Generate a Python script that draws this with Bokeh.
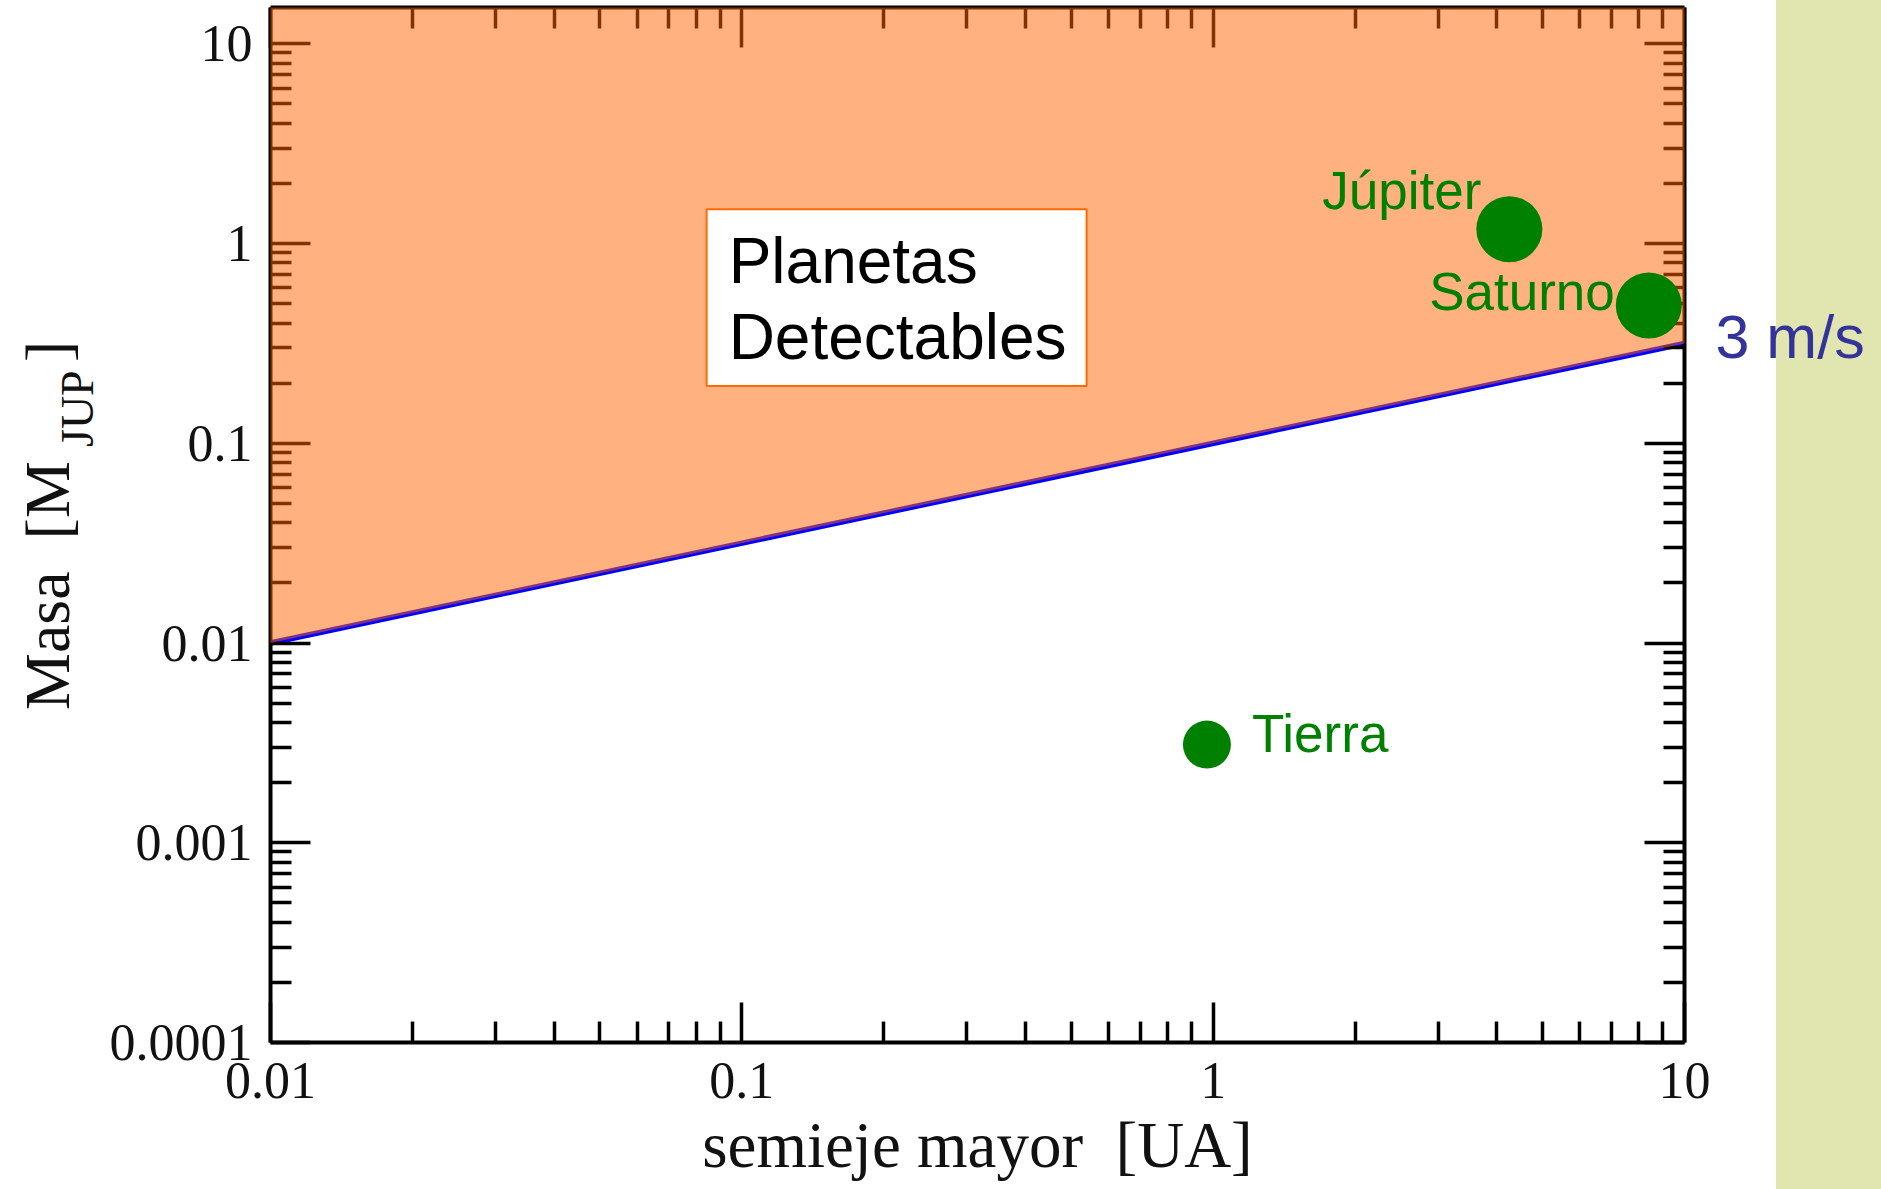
import math

from bokeh.plotting import figure
from bokeh.models import Range1d, LogAxis, FixedTicker, PrintfTickFormatter
from bokeh.core.properties import value
from bokeh.embed import file_html
from bokeh.resources import INLINE

# Solar-system planets: semi-major axis [AU] and mass [M_JUP]
planet_names = ["Júpiter", "Saturno", "Tierra"]
planet_a = [4.25, 8.4, 0.97]
planet_mass = [1.18, 0.49, 0.0031]

# 3 m/s radial-velocity detection limit
limit_a = [0.01, 10.0]
limit_mass = [0.01, 0.316]
limit_label = "3 m/s"

# Axis ticks
x_major = [0.01, 0.1, 1, 10]
y_major = [1e-4, 1e-3, 1e-2, 0.1, 1, 10]

x_lo, x_hi = 0.01, 10
y_lo, y_hi = 1e-4, 15.2

# Page layout (pixels)
W, H = 1881, 1189
BOX_L, BOX_R, BOX_T, BOX_B = 270, 1684, 7, 1042
STRIP_X = 1776
SERIF = "Liberation Serif"
SANS = "Liberation Sans"
GREEN = "#008000"
NB = "\u00a0"

# The frame fills the whole canvas; the axes box sits inside it.
lx0, lx1 = math.log10(x_lo), math.log10(x_hi)
ly0, ly1 = math.log10(y_lo), math.log10(y_hi)
px_x = (BOX_R - BOX_L) / (lx1 - lx0)
px_y = (BOX_B - BOX_T) / (ly1 - ly0)
x_range = Range1d(10 ** (lx0 - BOX_L / px_x), 10 ** (lx1 + (W - BOX_R) / px_x))
y_range = Range1d(10 ** (ly0 - (H - BOX_B) / px_y), 10 ** (ly1 + BOX_T / px_y))
y_mid = 10 ** ((ly0 + ly1) / 2)


def minors(majors):
    return [m * d for d in majors[:-1] for m in range(2, 10)]


p = figure(width=W, height=H, x_axis_type="log", y_axis_type="log",
           x_range=x_range, y_range=y_range,
           output_backend="svg", toolbar_location=None, min_border=0)
p.outline_line_color = None
p.grid.visible = False
p.background_fill_color = None
p.border_fill_color = None
p.styles = {
    "background": f"linear-gradient(to right, #ffffff {STRIP_X}px, #E1E5B0 {STRIP_X}px)"
}

p.add_layout(LogAxis(), "above")
p.add_layout(LogAxis(), "right")


def style_axis(ax, majors, bounds, loc, show_labels):
    ax.ticker = FixedTicker(ticks=majors, minor_ticks=minors(majors))
    ax.bounds = bounds
    ax.fixed_location = loc
    ax.axis_line_width = 4
    ax.axis_line_color = "black"
    ax.major_tick_in = 40
    ax.major_tick_out = 0
    ax.minor_tick_in = 21
    ax.minor_tick_out = 0
    ax.major_tick_line_width = 3.5
    ax.minor_tick_line_width = 3.5
    ax.major_tick_line_color = "black"
    ax.minor_tick_line_color = "black"
    if show_labels:
        ax.formatter = PrintfTickFormatter(format="%g")
        ax.major_label_text_font = SERIF
        ax.major_label_text_font_size = "52px"
        ax.major_label_text_color = "#111111"
    else:
        ax.major_label_text_font_size = "1px"
        ax.major_label_text_alpha = 0
        ax.major_label_standoff = 0
        ax.axis_label = None


for ax in p.below:
    style_axis(ax, x_major, (x_lo, x_hi), y_lo, True)
    ax.major_label_standoff = 20
    ax.axis_label = f"semieje mayor{NB}{NB}[UA]"
    ax.axis_label_text_font = SERIF
    ax.axis_label_text_font_size = "65px"
    ax.axis_label_text_font_style = "normal"
    ax.axis_label_text_color = "#111111"
    ax.axis_label_standoff = 8
for ax in p.above:
    style_axis(ax, x_major, (x_lo, x_hi), y_hi, False)
for ax in p.left:
    style_axis(ax, y_major, (y_lo, y_hi), x_lo, True)
    ax.major_label_standoff = 18
    ax.axis_label = None
for ax in p.right:
    style_axis(ax, y_major, (y_lo, y_hi), x_hi, False)

# Detection limit line
p.line(limit_a, limit_mass, line_color="#0000FF", line_width=5.5)

# Detectable region: translucent orange over everything above the limit
fill_x = limit_a + [limit_a[-1], limit_a[0]]
fill_y = limit_mass + [y_hi, y_hi]
p.patch(fill_x, fill_y, fill_color="#FF6400", fill_alpha=0.5,
        line_color=None, level="overlay")

# Region caption
p.text(x=[0.0842], y=[1.484], text=["Planetas\nDetectables"],
       text_font=value(SANS), text_font_size="64px", text_color="black",
       text_align="left", text_baseline="top", text_line_height=1.05,
       background_fill_color="white", border_line_color="#FF6A00",
       border_line_width=2,
       padding=dict(left=22, right=20, top=16, bottom=13),
       level="overlay")

# Planets
marker_px = [66, 66, 48]
p.scatter(planet_a, planet_mass, size=marker_px, fill_color=GREEN,
          line_color=None, level="overlay")

label_place = {
    "Júpiter": dict(x_offset=-28, y_offset=-39, text_align="right"),
    "Saturno": dict(x_offset=-34, y_offset=-14, text_align="right"),
    "Tierra": dict(x_offset=45, y_offset=-11, text_align="left"),
}
for name, a, m in zip(planet_names, planet_a, planet_mass):
    p.text(x=[a], y=[m], text=[name], text_font=value(SANS),
           text_font_size="53px", text_color=GREEN,
           text_baseline="alphabetic", level="overlay", **label_place[name])

# Label for the detection limit, right of the axes box
p.text(x=[limit_a[-1]], y=[limit_mass[-1]], text=[limit_label],
       x_offset=31, y_offset=-6, text_font=value(SANS),
       text_font_size="61px", text_color="#333399",
       text_align="left", text_baseline="alphabetic")

# Vertical axis title with subscript (offsets in pixels from the left axis middle)
ylab = [
    (f"Masa{NB}{NB}[M", -223, 185, "64px"),
    ("JUP", -193, -78, "46px"),
    ("]", -223, -163, "64px"),
]
for txt, dx, dy, fs in ylab:
    p.text(x=[x_lo], y=[y_mid], text=[txt], angle=math.pi / 2,
           x_offset=dx, y_offset=dy, text_font=value(SERIF),
           text_font_size=fs, text_color="#111111",
           text_align="left", text_baseline="alphabetic")

open("out.html", "w").write(file_html(p, INLINE))
